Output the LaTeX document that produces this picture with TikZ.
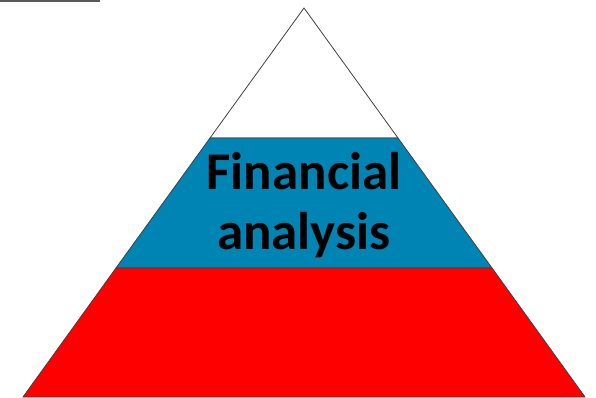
\documentclass[tikz,border=0pt]{standalone}
\usepackage{fontspec}
\setmainfont{Carlito}
\usetikzlibrary{positioning}
\definecolor{bandblue}{RGB}{0,132,180}
\definecolor{bandred}{RGB}{255,0,0}

\begin{document}
\begin{tikzpicture}[x=1pt,y=-1pt,line join=miter,
    band/.style={draw=black!75,line width=0.8pt},
    lbl/.style={align=center,font=\bfseries\fontsize{53}{57}\selectfont,text=black}]
    \useasboundingbox (0,0) rectangle (596,397);
    \coordinate (apex) at (304,8);
    \coordinate (tl) at (210,138);  \coordinate (tr) at (398,138);
    \coordinate (ml) at (116,268);  \coordinate (mr) at (492,268);
    \coordinate (bl) at (23,397);   \coordinate (br) at (585,397);

    \filldraw[band,fill=white] (apex) -- (tr) -- (tl) -- cycle;
    \filldraw[band,fill=bandblue] (tl) -- (tr) -- (mr) -- (ml) -- cycle;
    \filldraw[band,fill=bandred] (ml) -- (mr) -- (br) -- (bl) -- cycle;

    \node[lbl] (fin) at (304,205) {Financial\\[3pt]analysis};

    % bit of frame at top left
    \coordinate (fa) at (0,1.2); \coordinate (fb) at (100,1.2);
    \draw[black!65,line width=1.6pt] (fa) -- (fb);
\end{tikzpicture}
\end{document}
